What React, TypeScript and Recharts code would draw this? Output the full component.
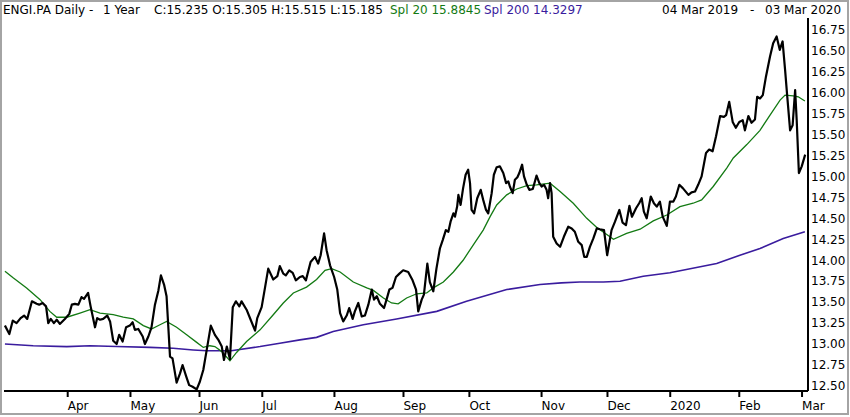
import React from 'react';
import { LineChart, Line, XAxis, YAxis } from 'recharts';

// Trading-day index (0 = 04 Mar 2019) and closing price
const priceDays = [
  0, 1.4, 2.5, 3.7, 5.0, 6.1, 7.1, 8.6, 10.1, 10.9,
  12.0, 13.1, 13.8, 14.6, 15.6, 16.5, 17.5, 19.1, 20.5, 21.3,
  22.3, 23.4, 24.4, 25.2, 26.5, 27.3, 28.7, 29.4, 30.3, 31.3,
  32.6, 33.5, 34.5, 35.6, 36.4, 37.5, 38.6, 39.8, 40.7, 41.4,
  42.5, 43.9, 44.6, 45.7, 46.7, 47.8, 48.9, 49.7, 50.7, 51.5,
  52.6, 53.4, 54.7, 55.8, 56.6, 57.7, 58.7, 59.8, 61.1, 62.1,
  63.2, 64.3, 65.6, 66.9, 68.0, 69.1, 69.8, 70.7, 71.7, 72.6,
  73.6, 74.7, 75.4, 77.0, 78.3, 79.7, 80.4, 81.8, 82.9, 83.9,
  85.5, 86.8, 87.6, 88.7, 89.5, 90.6, 91.7, 92.7, 94.0, 94.9,
  95.9, 97.4, 98.8, 99.8, 100.6, 101.7, 102.5, 103.6, 104.9, 105.9,
  106.8, 107.8, 108.9, 109.7, 110.8, 111.5, 112.6, 113.7, 114.7, 115.8,
  116.9, 117.6, 118.5, 119.5, 120.8, 121.6, 122.5, 123.5, 124.6, 125.7,
  126.9, 128.5, 129.9, 131.0, 131.7, 132.8, 133.5, 134.6, 135.4, 136.5,
  137.5, 138.6, 139.5, 140.5, 141.3, 142.0, 142.9, 143.4, 144.1, 144.5,
  145.2, 146.0, 146.8, 147.6, 148.2, 148.7, 149.5, 150.5, 151.6, 152.4,
  153.3, 154.0, 155.1, 155.8, 156.7, 157.7, 158.8, 159.7, 160.4, 160.9,
  161.8, 162.5, 163.3, 163.9, 164.8, 165.4, 166.3, 167.1, 168.2, 169.4,
  170.3, 171.0, 171.8, 172.6, 173.1, 173.7, 174.2, 174.7, 175.8, 176.9,
  178.1, 179.5, 180.6, 181.6, 182.7, 183.8, 184.6, 185.4, 186.4, 187.5,
  188.6, 189.6, 190.9, 191.9, 193.3, 194.4, 195.8, 196.8, 197.9, 199.0,
  199.8, 201.1, 202.1, 202.9, 203.6, 204.5, 205.8, 206.8, 207.7, 208.7,
  209.6, 210.9, 211.9, 213.0, 213.8, 214.9, 216.0, 217.8, 218.8, 219.9,
  220.9, 222.0, 223.4, 224.4, 225.5, 226.6, 227.9, 229.1, 229.8, 230.8,
  231.9, 232.9, 234.0, 235.1, 235.8, 236.9, 237.9, 239.0, 239.7, 240.6,
  241.5, 242.5, 243.8, 244.8, 245.9, 246.9, 247.8, 248.6, 249.3, 250.2,
  251.0, 251.8, 252.3, 253.0, 253.9, 255.0,
];
const priceValues = [
  13.22, 13.12, 13.28, 13.25, 13.31, 13.34, 13.30, 13.51, 13.48, 13.47,
  13.49, 13.45, 13.25, 13.30, 13.25, 13.29, 13.24, 13.30, 13.36, 13.47,
  13.48, 13.47, 13.56, 13.54, 13.61, 13.45, 13.20, 13.31, 13.29, 13.30,
  13.34, 13.27, 13.04, 13.00, 13.11, 13.03, 13.20, 13.22, 13.26, 13.17,
  13.18, 13.09, 13.00, 13.09, 13.20, 13.47, 13.64, 13.82, 13.71, 13.57,
  12.85, 12.83, 12.54, 12.65, 12.75, 12.62, 12.51, 12.49, 12.46, 12.55,
  12.69, 12.93, 13.22, 13.11, 13.05, 12.97, 12.81, 12.97, 12.82, 13.44,
  13.51, 13.45, 13.51, 13.41, 13.29, 13.16, 13.31, 13.44, 13.68, 13.90,
  13.77, 13.81, 13.93, 13.84, 13.82, 13.88, 13.85, 13.76, 13.80, 13.81,
  13.76, 13.98, 14.04, 13.96, 14.06, 14.32, 14.12, 13.94, 13.80, 13.65,
  13.37, 13.27, 13.34, 13.43, 13.30, 13.39, 13.49, 13.33, 13.34, 13.47,
  13.65, 13.53, 13.57, 13.48, 13.43, 13.53, 13.65, 13.67, 13.80, 13.84,
  13.88, 13.86, 13.76, 13.65, 13.39, 13.53, 13.59, 13.96, 13.74, 13.63,
  13.90, 14.14, 14.24, 14.36, 14.34, 14.46, 14.56, 14.52, 14.64, 14.78,
  14.66, 14.86, 15.02, 15.08, 14.92, 14.60, 14.56, 14.74, 14.84, 14.72,
  14.60, 14.56, 14.80, 15.02, 15.11, 15.12, 15.04, 14.92, 14.94, 14.88,
  14.80, 14.96, 14.99, 15.04, 15.14, 15.00, 14.90, 14.84, 14.85, 15.01,
  14.92, 14.88, 14.90, 14.84, 14.74, 14.92, 14.80, 14.28, 14.20, 14.16,
  14.28, 14.40, 14.38, 14.34, 14.22, 14.18, 14.04, 14.04, 14.16, 14.26,
  14.38, 14.37, 14.36, 14.06, 14.36, 14.46, 14.60, 14.45, 14.42, 14.65,
  14.52, 14.62, 14.68, 14.74, 14.58, 14.50, 14.76, 14.68, 14.64, 14.70,
  14.52, 14.41, 14.70, 14.70, 14.76, 14.90, 14.86, 14.78, 14.81, 14.82,
  14.90, 15.00, 15.28, 15.32, 15.30, 15.48, 15.72, 15.71, 15.73, 15.89,
  15.65, 15.58, 15.65, 15.67, 15.55, 15.72, 15.64, 15.68, 15.95, 15.93,
  15.97, 16.19, 16.43, 16.59, 16.67, 16.51, 16.61, 16.27, 15.95, 15.55,
  15.61, 16.03, 15.67, 15.04, 15.12, 15.26,
];

// 20-day simple moving average
const sma20Days = [
  0, 2.6, 6.9, 11.2, 14.3, 16.5, 19.7, 23.9, 27.1, 30.3,
  34.5, 37.7, 40.9, 44.1, 46.7, 49.4, 51.5, 54.7, 57.9, 61.1,
  63.2, 65.3, 66.9, 69.1, 71.7, 73.8, 77.0, 81.3, 85.5, 88.7,
  91.9, 96.1, 99.3, 102.0, 104.1, 106.8, 111.0, 115.3, 117.4, 120.6,
  123.2, 125.3, 128.0, 131.2, 134.4, 136.5, 139.7, 142.9, 146.0, 149.2,
  152.4, 154.6, 156.7, 159.9, 163.1, 166.3, 169.4, 173.7, 176.9, 181.1,
  185.4, 188.6, 192.8, 193.9, 198.1, 202.4, 206.6, 210.9, 215.1, 219.3,
  222.0, 225.7, 230.0, 232.1, 236.4, 240.6, 243.8, 247.0, 248.6, 251.2,
  252.8, 254.9,
];
const sma20Values = [
  13.87, 13.79, 13.67, 13.53, 13.39, 13.32, 13.32, 13.37, 13.41, 13.37,
  13.35, 13.32, 13.30, 13.22, 13.18, 13.23, 13.27, 13.20, 13.11, 13.02,
  12.96, 12.98, 12.97, 12.91, 12.80, 12.90, 13.03, 13.17, 13.35, 13.49,
  13.61, 13.68, 13.77, 13.88, 13.90, 13.86, 13.74, 13.67, 13.64, 13.55,
  13.49, 13.48, 13.55, 13.60, 13.61, 13.67, 13.74, 13.86, 14.00, 14.18,
  14.36, 14.52, 14.66, 14.78, 14.85, 14.89, 14.90, 14.92, 14.82, 14.68,
  14.50, 14.39, 14.28, 14.25, 14.32, 14.37, 14.47, 14.54, 14.64, 14.68,
  14.72, 14.88, 15.10, 15.22, 15.38, 15.55, 15.73, 15.91, 15.97, 15.96,
  15.95, 15.90,
];

// 200-day simple moving average
const sma200Days = [
  0, 9.0, 19.7, 27.1, 35.6, 46.2, 53.6, 60.0, 64.3, 72.1,
  81.3, 87.6, 94.0, 99.3, 104.6, 114.2, 124.8, 137.6, 147.1, 159.9,
  170.5, 177.3, 183.2, 190.7, 196.0, 203.4, 211.9, 226.8, 234.2, 240.6,
  248.0, 254.9,
];
const sma200Values = [
  13.00, 12.98, 12.97, 12.98, 12.97, 12.96, 12.95, 12.93, 12.92, 12.92,
  12.97, 13.01, 13.05, 13.08, 13.15, 13.23, 13.30, 13.39, 13.51, 13.65,
  13.71, 13.73, 13.74, 13.74, 13.75, 13.81, 13.85, 13.96, 14.06, 14.14,
  14.26, 14.34,
];

const monthTickDays = [20, 40, 62, 82, 105, 127, 148, 171, 192, 212, 234, 254];
const monthTickLabels = ['Apr', 'May', 'Jun', 'Jul', 'Aug', 'Sep', 'Oct', 'Nov', 'Dec', '2020', 'Feb', 'Mar'];
const priceTicks = [12.5, 12.75, 13, 13.25, 13.5, 13.75, 14, 14.25, 14.5, 14.75, 15, 15.25, 15.5, 15.75, 16, 16.25, 16.5, 16.75];

const FONT = '"DejaVu Sans", Verdana, sans-serif';
const GREEN = '#137a13';
const PURPLE = '#3a1c9e';

const toSeries = (days: number[], vals: number[]) => days.map((d, i) => ({ day: d, value: vals[i] }));
const priceData = toSeries(priceDays, priceValues);
const sma20Data = toSeries(sma20Days, sma20Values);
const sma200Data = toSeries(sma200Days, sma200Values);

function XTick(props: any) {
  const { x, y, payload } = props;
  const idx = monthTickDays.indexOf(payload.value);
  return (
    <text x={x} y={y} dy="0.71em" textAnchor="start" fontSize={12} fontFamily={FONT} fill="#000">
      {monthTickLabels[idx]}
    </text>
  );
}

function YTick(props: any) {
  const { x, y, payload } = props;
  return (
    <text x={x} y={y} dy="0.355em" textAnchor="start" fontSize={12} fontFamily={FONT} fill="#000">
      {Number(payload.value).toFixed(2)}
    </text>
  );
}

export default function App() {
  return (
    <div style={{ position: 'fixed', left: 0, top: 0, width: 850, height: 417, background: '#fff', fontFamily: FONT }}>
      <LineChart width={850} height={417} margin={{ top: 18, right: 0, bottom: 4, left: 4 }}>
        <XAxis
          dataKey="day"
          type="number"
          domain={[-0.3, 255.9]}
          ticks={monthTickDays}
          interval={0}
          allowDataOverflow
          height={22}
          tickSize={6}
          tickMargin={4.5}
          axisLine={{ stroke: '#000', strokeWidth: 2 }}
          tickLine={{ stroke: '#000', strokeWidth: 2 }}
          tick={<XTick />}
        />
        <YAxis
          orientation="right"
          type="number"
          domain={[12.44, 16.89]}
          ticks={priceTicks}
          interval={0}
          allowDataOverflow
          width={42}
          tickSize={0}
          tickMargin={3}
          tickLine={false}
          axisLine={{ stroke: '#000', strokeWidth: 2 }}
          tick={<YTick />}
        />
        <Line data={sma200Data} dataKey="value" type="linear" stroke={PURPLE} strokeWidth={1.6} dot={false} isAnimationActive={false} />
        <Line data={sma20Data} dataKey="value" type="linear" stroke={GREEN} strokeWidth={1.3} dot={false} isAnimationActive={false} />
        <Line data={priceData} dataKey="value" type="linear" stroke="#000" strokeWidth={2.2} strokeLinejoin="round" dot={false} isAnimationActive={false} />
      </LineChart>
      <svg width={850} height={20} style={{ position: 'absolute', left: 0, top: 0 }}>
        <g fontSize={12} fontFamily={FONT}>
          <text x={3} y={14} fill="#000">ENGI.PA Daily -</text>
          <text x={103} y={14} fill="#000">1 Year</text>
          <text x={154} y={14} fill="#000">C:15.235 O:15.305 H:15.515 L:15.185</text>
          <text x={390} y={14} fill={GREEN}>Spl 20 15.8845</text>
          <text x={484} y={14} fill={PURPLE}>Spl 200 14.3297</text>
          <text x={662} y={14} fill="#000">04 Mar 2019</text>
          <text x={750} y={14} fill="#000">-</text>
          <text x={765} y={14} fill="#000">03 Mar 2020</text>
        </g>
      </svg>
      <div
        style={{
          position: 'absolute',
          left: 0,
          top: 0,
          width: 849,
          height: 415,
          boxSizing: 'border-box',
          border: '2px solid #a4a4a4',
          pointerEvents: 'none',
        }}
      />
    </div>
  );
}
